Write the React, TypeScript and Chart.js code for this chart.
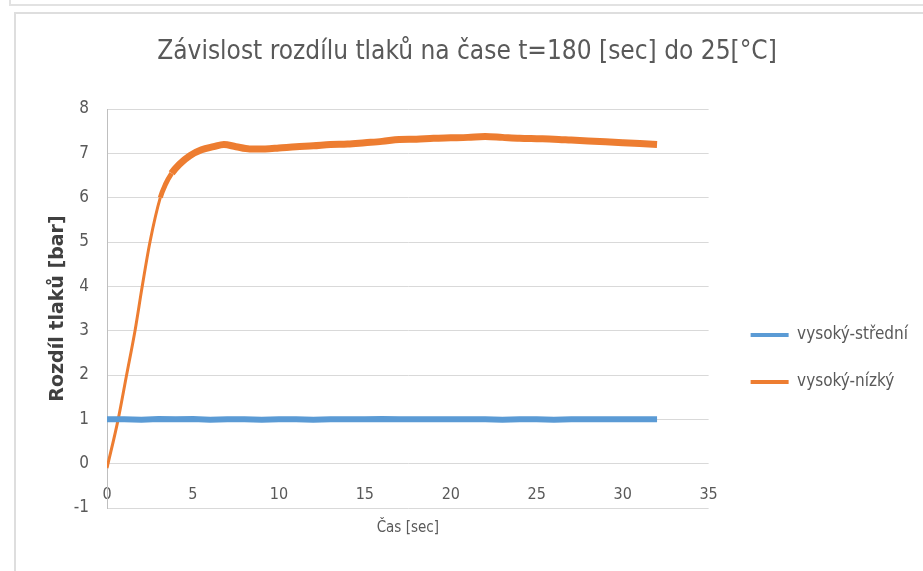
import React, { useEffect, useRef } from "react";
import { Chart, registerables } from "chart.js";

Chart.register(...registerables);

const chartTitle = "Závislost rozdílu tlaků na čase t=180 [sec] do 25[°C]";
const xAxisTitle = "Čas [sec]";
const yAxisTitle = "Rozdíl tlaků [bar]";
const seriesNames = ["vysoký-střední", "vysoký-nízký"];

// time axis ticks: 0..35 step 5 ; value axis: -1..8 step 1
const xMin = 0;
const xMax = 35;
const xStep = 5;
const yMin = -1;
const yMax = 8;
const yStep = 1;

// vysoký-střední
const timeBlue = [0, 1, 2, 3, 4, 5, 6, 7, 8, 9, 10, 11, 12, 13, 14, 15, 16, 17, 18, 19, 20, 21, 22, 23, 24, 25, 26, 27, 28, 29, 30, 31, 32];
const valuesBlue = [1.0, 1.0, 0.99, 1.01, 1.0, 1.01, 0.99, 1.0, 1.0, 0.99, 1.0, 1.0, 0.99, 1.0, 1.0, 1.0, 1.01, 1.0, 1.0, 1.0, 1.0, 1.0, 1.0, 0.99, 1.0, 1.0, 0.99, 1.0, 1.0, 1.0, 1.0, 1.0, 1.0];

// vysoký-nízký
const timeOrange = [0, 0.65, 1.14, 1.63, 2.05, 2.5, 3.1, 3.4, 3.76, 4.2, 4.83, 5.5, 6.2, 6.8, 7.5, 8.3, 9.2, 10, 11, 12, 13, 14, 15, 16, 17, 18, 19, 20, 21, 22, 23, 24, 25, 26, 27, 28, 29, 30, 31, 32];
const valuesOrange = [-0.1, 1.0, 2.0, 3.0, 4.0, 5.0, 6.0, 6.3, 6.55, 6.75, 6.95, 7.08, 7.15, 7.2, 7.15, 7.1, 7.1, 7.12, 7.15, 7.17, 7.2, 7.21, 7.24, 7.27, 7.31, 7.32, 7.34, 7.35, 7.36, 7.38, 7.36, 7.34, 7.33, 7.32, 7.3, 7.28, 7.26, 7.24, 7.22, 7.2];

const BLUE = "#5b9bd5";
const ORANGE = "#ed7d31";
const NARROW = "'Liberation Sans Narrow', 'DejaVu Sans Condensed', 'Arial Narrow', sans-serif";
const COND = "'DejaVu Sans Condensed', 'DejaVu Sans', sans-serif";
const WIDE = "'DejaVu Sans', sans-serif";

function toPoints(xs: number[], ys: number[]) {
  return xs.map((x, i) => ({ x, y: ys[i] }));
}

function segWidth(thick: number) {
  return (ctx: any) => {
    const dx = Math.abs(ctx.p1.parsed.x - ctx.p0.parsed.x) || 1;
    const dy = Math.abs(ctx.p1.parsed.y - ctx.p0.parsed.y);
    const s = dy / dx;
    if (s > 1.5) return 3;
    if (s > 0.5) return 5;
    return thick;
  };
}

export default function App() {
  const canvasRef = useRef<HTMLCanvasElement | null>(null);

  useEffect(() => {
    if (!canvasRef.current) return;
    const chart = new Chart(canvasRef.current, {
      type: "line",
      data: {
        datasets: [
          {
            label: seriesNames[0],
            data: toPoints(timeBlue, valuesBlue),
            borderColor: BLUE,
            backgroundColor: BLUE,
            borderWidth: 6,
            pointRadius: 0,
            tension: 0,
            segment: { borderWidth: segWidth(6) },
          },
          {
            label: seriesNames[1],
            data: toPoints(timeOrange, valuesOrange),
            borderColor: ORANGE,
            backgroundColor: ORANGE,
            borderWidth: 7,
            pointRadius: 0,
            cubicInterpolationMode: "monotone",
            segment: { borderWidth: segWidth(7) },
          },
        ],
      },
      options: {
        animation: false,
        responsive: true,
        maintainAspectRatio: false,
        layout: { padding: { left: 0, right: 5, top: 0, bottom: 0 } },
        scales: {
          x: {
            type: "linear",
            min: xMin,
            max: xMax,
            ticks: {
              stepSize: xStep,
              color: "#595959",
              font: { family: NARROW, size: 16 },
              padding: 4,
              mirror: true,
              maxRotation: 0,
              autoSkip: false,
            },
            grid: { display: false, drawTicks: false },
            border: { display: false },
            title: {
              display: true,
              text: xAxisTitle,
              color: "#595959",
              font: { family: NARROW, size: 15 },
              padding: { top: 0, bottom: 34 },
            },
            afterFit: (s: any) => {
              s.height = 63;
            },
          },
          y: {
            type: "linear",
            min: yMin,
            max: yMax,
            ticks: {
              stepSize: yStep,
              color: "#595959",
              font: { family: COND, size: 17 },
              padding: 18,
            },
            grid: { color: "#d9d9d9", drawTicks: false },
            border: { display: true, color: "#bfbfbf" },
            title: {
              display: true,
              text: yAxisTitle,
              color: "#404040",
              font: { family: WIDE, size: 19, weight: "bold" },
              padding: { top: 30.6, bottom: 0 },
            },
            afterFit: (s: any) => {
              s.width = 91;
            },
          },
          gap: {
            type: "linear",
            position: "right",
            display: false,
            afterFit: (s: any) => {
              s.width = 12;
            },
          },
        },
        plugins: {
          title: {
            display: true,
            text: chartTitle,
            color: "#595959",
            font: { family: NARROW, size: 26, weight: "normal" },
            padding: { top: 22.4, bottom: 41.4 },
          },
          legend: {
            position: "right",
            fullSize: false,
            title: {
              display: true,
              text: " ",
              font: { size: 12 },
              padding: { top: 42.8, bottom: 42.8 },
            },
            labels: {
              usePointStyle: true,
              pointStyle: "line",
              pointStyleWidth: 38,
              padding: 30,
              color: "#595959",
              font: { family: NARROW, size: 17 },
              generateLabels: (chart: any) => {
                const items = Chart.defaults.plugins.legend.labels.generateLabels(chart);
                return items.map((it: any) => ({ ...it, lineWidth: 4, pointStyle: "line" }));
              },
            },
          },
          tooltip: { enabled: false },
        },
      },
    } as any);
    return () => chart.destroy();
  }, []);

  return (
    <div
      style={{
        position: "absolute",
        left: 0,
        top: 0,
        width: 923,
        height: 571,
        background: "#ffffff",
        overflow: "hidden",
      }}
    >
      <div
        style={{
          position: "absolute",
          left: 9,
          top: -4,
          width: 940,
          height: 8,
          borderLeft: "2px solid #e2e2e2",
          borderBottom: "2px solid #e2e2e2",
        }}
      />
      <div
        style={{
          position: "absolute",
          left: 14,
          top: 12,
          width: 940,
          height: 600,
          borderLeft: "2px solid #dedede",
          borderTop: "2px solid #dedede",
        }}
      />
      <div style={{ position: "absolute", left: 16, top: 14, width: 907, height: 557 }}>
        <canvas ref={canvasRef} />
      </div>
    </div>
  );
}
